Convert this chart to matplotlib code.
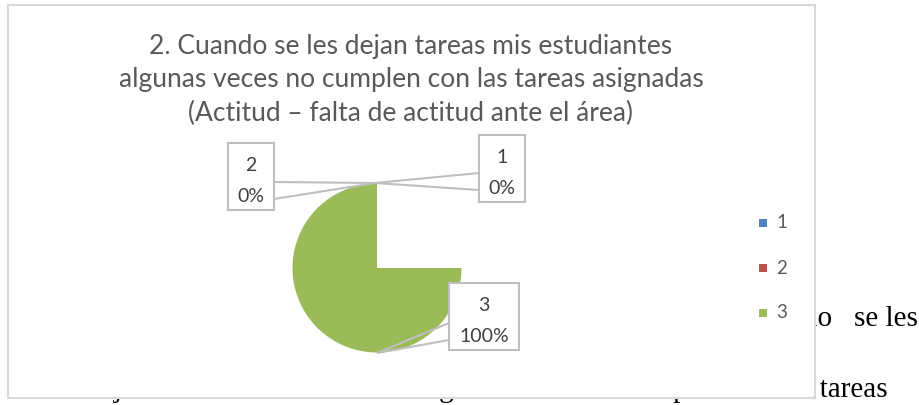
import matplotlib.pyplot as plt
from matplotlib.patches import Rectangle, Polygon

# datos de la encuesta (pregunta 2)
categorias = ["1", "2", "3"]
respuestas = [0, 0, 100]
colores = ["#4F81BD", "#C0504D", "#9BBB59"]
titulo = ("2. Cuando se les dejan tareas mis estudiantes\n"
          "algunas veces no cumplen con las tareas asignadas\n"
          "(Actitud \u2013 falta de actitud ante el \u00e1rea)")
# texto del documento que asoma detras del grafico
texto_fondo_1 = "do"
texto_fondo_2 = "se les"
texto_fondo_3 = "les dejan tareas mis estudiantes algunas veces no cumplen con las tareas"

# el grafico original solo dibuja 3/4 del circulo
barrido = 0.75

fig = plt.figure(figsize=(9.19, 4.05), dpi=100)
ax = fig.add_axes([0, 0, 1, 1])

total = sum(respuestas)
fracciones = [v / total * barrido for v in respuestas]
ax.pie(fracciones, colors=colores, normalize=False, startangle=270,
       counterclock=False, center=(377, 268), radius=84.5,
       wedgeprops=dict(linewidth=0))

ax.set_xlim(0, 919)
ax.set_ylim(405, 0)
ax.set_aspect("auto")
ax.axis("off")

ax.text(832, 326, texto_fondo_1, ha="right", va="baseline", fontsize=21,
        family="Liberation Serif", color="black", zorder=0)
ax.text(918, 326, texto_fondo_2, ha="right", va="baseline", fontsize=21,
        family="Liberation Serif", color="black", zorder=0)
ax.text(888, 397, texto_fondo_3, ha="right", va="baseline", fontsize=21,
        family="Liberation Serif", color="black", zorder=0)

# marco del grafico
ax.add_patch(Rectangle((8, 5), 807, 393, facecolor="white", edgecolor="#D9D9D9",
                       linewidth=1.5, zorder=0.5))

ax.text(411, 80, titulo, ha="center", va="center", fontsize=19,
        family="Lato", color="#595959", linespacing=1.42, zorder=3)

# etiquetas tipo globo: (x0, y0, ancho, alto), puntos del globo
cajas = [
    ((479, 135, 46, 67), [(479, 173), (375, 183), (479, 190)]),
    ((228, 143, 46, 67), [(274, 182), (375, 183), (274, 199)]),
    ((449, 283, 70, 67), [(449, 323), (377, 353), (449, 340)]),
]
for i, ((x0, y0, w, h), globo) in enumerate(cajas):
    ax.add_patch(Polygon(globo, closed=False, fill=False, edgecolor="#BFBFBF",
                         linewidth=1.5, zorder=3))
    ax.add_patch(Rectangle((x0, y0), w, h, facecolor="white", edgecolor="#BFBFBF",
                           linewidth=1.5, zorder=4))
    pct = "%d%%" % round(respuestas[i] / total * 100)
    ax.text(x0 + w / 2, y0 + h * 0.33, categorias[i], ha="center", va="center",
            fontsize=14, family="Lato", color="#404040", zorder=5)
    ax.text(x0 + w / 2, y0 + h * 0.8, pct, ha="center", va="center",
            fontsize=14, family="Lato", color="#404040", zorder=5)

# leyenda
for i, cat in enumerate(categorias):
    y = 223 + i * 45
    ax.add_patch(Rectangle((759, y - 4), 8, 8, facecolor=colores[i], linewidth=0, zorder=3))
    ax.text(776, y, cat, ha="left", va="center", fontsize=13.5,
            family="Lato", color="#595959", zorder=3)

fig.savefig("out.png", dpi=100)
